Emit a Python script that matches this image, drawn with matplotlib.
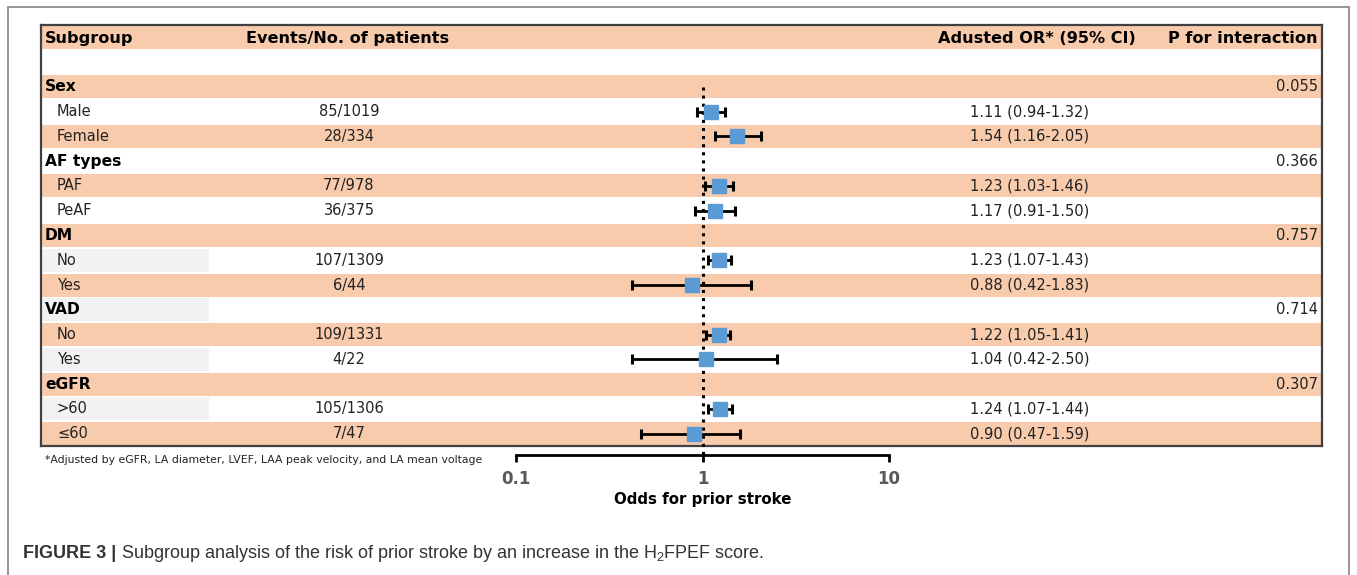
import matplotlib.pyplot as plt
from matplotlib.patches import Rectangle
import numpy as np

W, H = 1357, 575

# table rows (after header + blank row)
labels = ["Sex", "Male", "Female", "AF types", "PAF", "PeAF", "DM", "No", "Yes",
          "VAD", "No", "Yes", "eGFR", ">60", "\u226460"]
is_group = [True, False, False, True, False, False, True, False, False,
            True, False, False, True, False, False]
events = ["", "85/1019", "28/334", "", "77/978", "36/375", "", "107/1309", "6/44",
          "", "109/1331", "4/22", "", "105/1306", "7/47"]
p_inter = ["0.055", "", "", "0.366", "", "", "0.757", "", "",
           "0.714", "", "", "0.307", "", ""]

# estimates for the subgroup rows only
sub_rows = [1, 2, 4, 5, 7, 8, 10, 11, 13, 14]
odds = [1.11, 1.54, 1.23, 1.17, 1.23, 0.88, 1.22, 1.04, 1.24, 0.90]
ci_lo = [0.94, 1.16, 1.03, 0.91, 1.07, 0.42, 1.05, 0.42, 1.07, 0.47]
ci_hi = [1.32, 2.05, 1.46, 1.50, 1.43, 1.83, 1.41, 2.50, 1.44, 1.59]

headers = ["Subgroup", "Events/No. of patients", "Adusted OR* (95% CI)", "P for interaction"]

peach = "#F8CBAD"
grey_cell = "#F2F2F2"
blue = "#5B9BD5"

fig = plt.figure(figsize=(W / 100, H / 100), dpi=100)

# outer frame of the figure panel
fig.add_artist(Rectangle((8 / W, -0.05), (1349 - 8) / W, 1.05 - 7 / H,
                         transform=fig.transFigure, fill=False, ec="#8c8c8c", lw=1.3))

# table area
t_left, t_right, t_top, t_bot = 41, 1322, 25, 446
n_rows = len(labels) + 2
row_h = (t_bot - t_top) / n_rows

ax_t = fig.add_axes([t_left / W, 1 - t_bot / H, (t_right - t_left) / W, (t_bot - t_top) / H])
ax_t.set_xlim(t_left, t_right)
ax_t.set_ylim(n_rows, 0)
ax_t.set_xticks([])
ax_t.set_yticks([])
for s in ax_t.spines.values():
    s.set_color("#404040")
    s.set_linewidth(1.6)

for i in range(n_rows):
    if i % 2 == 0:
        ax_t.barh(i + 0.5, t_right - t_left, left=t_left, height=0.93, color=peach, lw=0)
    elif i >= 9:
        ax_t.barh(i + 0.5, 209 - t_left, left=t_left, height=0.93, color=grey_cell, lw=0)

fs = 10.5
hfs = 11.6
ax_t.text(45, 0.55, headers[0], fontsize=hfs, fontweight="bold", va="center", ha="left")
ax_t.text(246, 0.55, headers[1], fontsize=hfs, fontweight="bold", va="center", ha="left")
ax_t.text(1136, 0.55, headers[2], fontsize=hfs, fontweight="bold", va="center", ha="right")
ax_t.text(1318, 0.55, headers[3], fontsize=hfs, fontweight="bold", va="center", ha="right")

for k, lab in enumerate(labels):
    y = k + 2.5
    if is_group[k]:
        ax_t.text(45, y, lab, fontsize=11.2, fontweight="bold", va="center", ha="left")
    else:
        ax_t.text(57, y, lab, fontsize=fs, va="center", ha="left", color="#222222")
    if events[k]:
        ax_t.text(349, y, events[k], fontsize=fs, va="center", ha="center", color="#222222")
    if p_inter[k]:
        ax_t.text(1318, y, p_inter[k], fontsize=fs, va="center", ha="right", color="#222222")

for r, o, lo, hi in zip(sub_rows, odds, ci_lo, ci_hi):
    ax_t.text(970, r + 2.5, f"{o:.2f} ({lo:.2f}-{hi:.2f})", fontsize=fs,
              va="center", ha="left", color="#222222")

# footnote
fig.text(45 / W, 1 - 460 / H, "*Adjusted by eGFR, LA diameter, LVEF, LAA peak velocity, and LA mean voltage",
         fontsize=7.8, va="center", ha="left", color="#222222")

# forest plot axes (log scale), shares row geometry with the table
f_left, f_right, f_bot = 516, 889, 455
extra = (f_bot - t_bot) / row_h
ax_f = fig.add_axes([f_left / W, 1 - f_bot / H, (f_right - f_left) / W, (f_bot - t_top) / H])
ax_f.patch.set_alpha(0)
ax_f.set_xscale("log")
ax_f.set_xlim(0.1, 10)
ax_f.set_ylim(n_rows + extra, 0)
for side in ["top", "left", "right"]:
    ax_f.spines[side].set_visible(False)
ax_f.spines["bottom"].set_linewidth(2)
ax_f.set_yticks([])
ax_f.set_xticks([0.1, 1, 10])
ax_f.set_xticklabels(["0.1", "1", "10"])
ax_f.minorticks_off()
ax_f.tick_params(axis="x", direction="out", length=5, width=2, pad=6,
                 labelsize=12, labelcolor="#595959")
for lab in ax_f.get_xticklabels():
    lab.set_fontweight("bold")
ax_f.set_xlabel("Odds for prior stroke", fontsize=10.8, fontweight="bold", labelpad=3)

ax_f.vlines(1, 2.5, n_rows + extra, colors="black", linestyles="dotted", lw=2.2)

yy = np.array(sub_rows) + 2.5
odds_a = np.array(odds)
err = [odds_a - np.array(ci_lo), np.array(ci_hi) - odds_a]
ax_f.errorbar(odds_a, yy, xerr=err, fmt="none", ecolor="black", elinewidth=2,
              capsize=3.5, capthick=2.2, zorder=3)
ax_f.plot(odds_a, yy, "s", color=blue, markersize=9.5, zorder=4)

# caption
cap = fig.text(23 / W, 1 - 553 / H, "FIGURE 3 | ", fontsize=13, fontweight="bold",
               family="Liberation Sans", color="#333333", va="center", ha="left")
ax_t.annotate("Subgroup analysis of the risk of prior stroke by an increase in the H$_{\\mathregular{2}}$FPEF score.",
              xy=(1, 0.5), xycoords=cap, va="center", ha="left", fontsize=13,
              family="Liberation Sans", color="#333333", annotation_clip=False)

fig.savefig("out.png", dpi=100)
